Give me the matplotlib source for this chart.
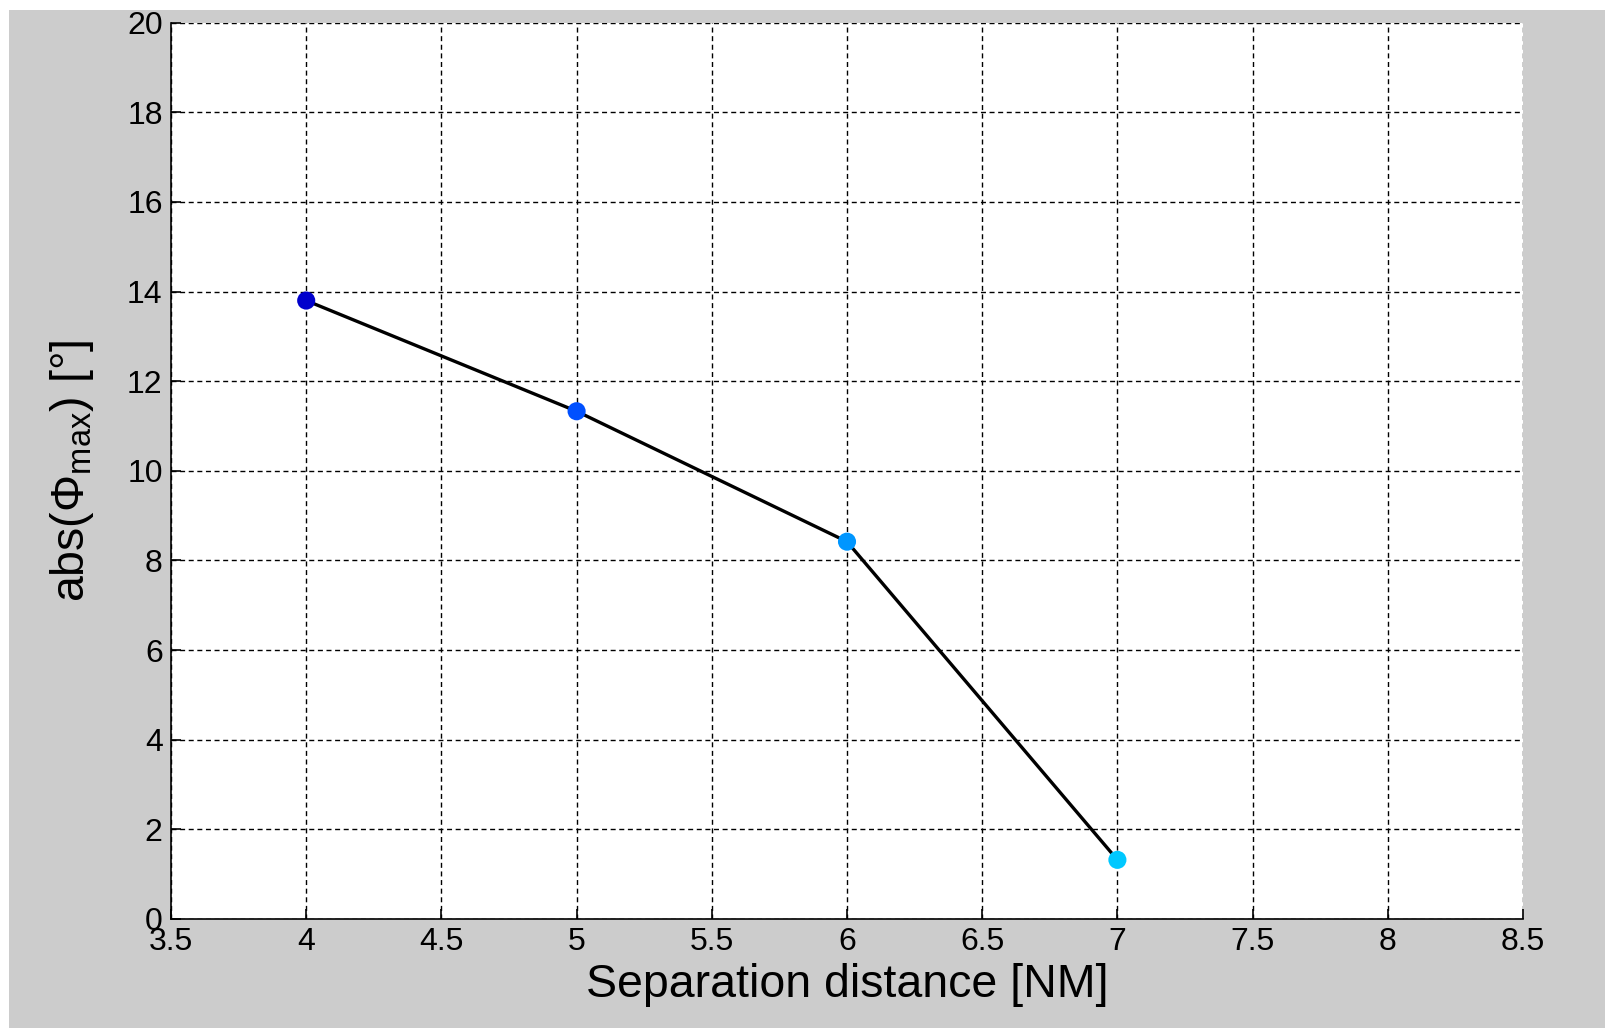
import numpy as np
import matplotlib
matplotlib.use("Agg")
import matplotlib.pyplot as plt
from matplotlib.patches import Rectangle

# data
separation = [4, 5, 6, 7]
phi_max = [13.8, 11.33, 8.42, 1.32]
point_colors = ["#0000CC", "#0050FF", "#0096FF", "#00C8FF"]

xticks = [3.5, 4, 4.5, 5, 5.5, 6, 6.5, 7, 7.5, 8, 8.5]
xtick_labels = ["3.5", "4", "4.5", "5", "5.5", "6", "6.5", "7", "7.5", "8", "8.5"]
yticks = [0, 2, 4, 6, 8, 10, 12, 14, 16, 18, 20]

plt.rcParams["font.family"] = ["Liberation Sans", "DejaVu Sans"]
plt.rcParams["mathtext.fontset"] = "custom"
plt.rcParams["mathtext.rm"] = "Liberation Sans"
plt.rcParams["mathtext.it"] = "Liberation Sans:italic"
plt.rcParams["lines.scale_dashes"] = False

W, H = 1606, 1028
fig = plt.figure(figsize=(W / 100, H / 100), dpi=100, facecolor="white")
# grey window background, leaving thin white strips at top and left
fig.patches.append(Rectangle((9 / W, 0), 1, 1 - 10 / H, transform=fig.transFigure,
                             facecolor="#CCCCCC", edgecolor="none", zorder=-10))

ax = fig.add_axes([171 / W, 1 - 919 / H, (1523 - 171) / W, (919 - 22.7) / H])
ax.set_facecolor("white")

ax.plot(separation, phi_max, color="black", linewidth=2.4, zorder=3)
ax.scatter(separation, phi_max, s=170, c=point_colors, edgecolors="none", zorder=4)

ax.set_xlim(3.5, 8.5)
ax.set_ylim(0, 20)
ax.set_xticks(xticks)
ax.set_xticklabels(xtick_labels)
ax.set_yticks(yticks)

ax.grid(True, color="black", linewidth=1.0, linestyle=(0, (3.6, 2.6)))
ax.set_axisbelow(True)
for side in ("top", "right"):
    ax.spines[side].set_visible(False)
for side in ("left", "bottom"):
    ax.spines[side].set_linewidth(1.2)
ax.tick_params(direction="in", length=7, width=1.2, labelsize=23, pad=6,
               colors="black")

ax.set_xlabel("Separation distance [NM]", fontsize=33.5, labelpad=4)
ax.set_ylabel(r"abs($\Phi_{\rm max}$) [°]", fontsize=33.5, labelpad=22)

fig.savefig("out.png", dpi=100, facecolor=fig.get_facecolor())
plt.close(fig)
